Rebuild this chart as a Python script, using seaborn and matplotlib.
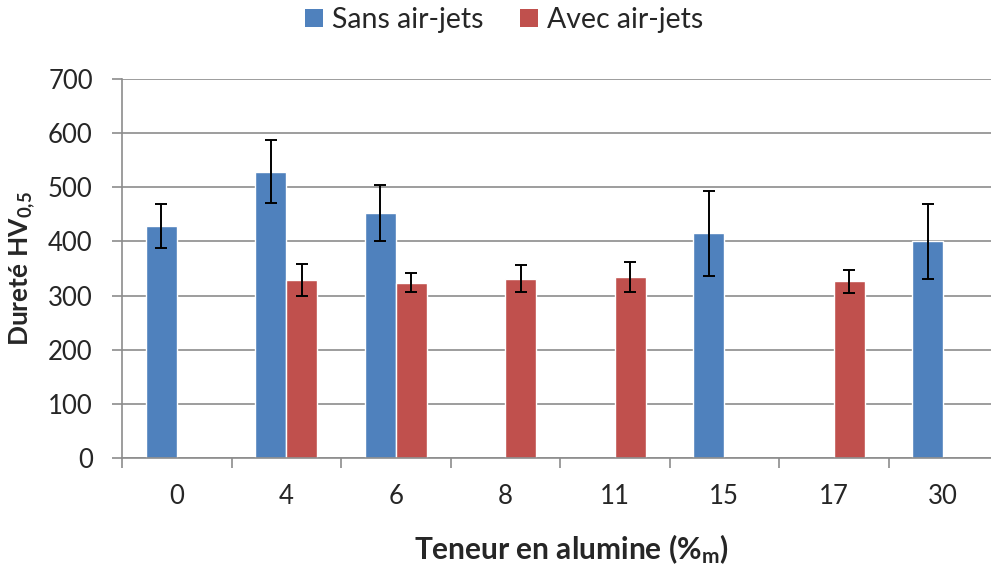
import matplotlib
matplotlib.use("Agg")
import matplotlib.pyplot as plt
from matplotlib.patches import Patch
from matplotlib.ticker import FixedLocator
import numpy as np
import pandas as pd
import seaborn as sns

# Alumina content categories (mass %)
categories = ["0", "4", "6", "8", "11", "15", "17", "30"]

# Vickers hardness HV0.5, mean and standard deviation (None = not measured)
sans_values = [428, 529, 452, None, None, 415, None, 400]
sans_errors = [41, 58, 52, None, None, 78, None, 70]
avec_values = [None, 329, 324, 331, 334, None, 326, None]
avec_errors = [None, 30, 18, 25, 28, None, 21, None]

series_names = ["Sans air-jets", "Avec air-jets"]
colors = ["#4F81BD", "#C0504D"]
y_ticks = [0, 100, 200, 300, 400, 500, 600, 700]

sns.set_style("white")
FONT = "Lato"
plt.rcParams["font.family"] = [FONT, "DejaVu Sans"]
plt.rcParams["mathtext.fontset"] = "custom"
plt.rcParams["mathtext.rm"] = f"{FONT}:bold"
plt.rcParams["mathtext.bf"] = f"{FONT}:bold"
plt.rcParams["mathtext.it"] = f"{FONT}:bold"

rows = []
for name, vals in zip(series_names, [sans_values, avec_values]):
    for cat, v in zip(categories, vals):
        if v is not None:
            rows.append({"Teneur": cat, "Dureté": v, "Série": name})
df = pd.DataFrame(rows)

err_lookup = {}
for name, errs in zip(series_names, [sans_errors, avec_errors]):
    for i, e in enumerate(errs):
        if e is not None:
            err_lookup[(name, i)] = e

fig = plt.figure(figsize=(9.91, 5.68), dpi=100)
ax = fig.add_axes([122 / 991, 1 - 458 / 568, 876 / 991, (458 - 79) / 568])

sns.barplot(data=df, x="Teneur", y="Dureté", hue="Série", order=categories,
            hue_order=series_names, palette=colors, width=0.566,
            saturation=1, errorbar=None, legend=False, ax=ax)

# Standard deviation whiskers on each bar
for name, container in zip(series_names, ax.containers):
    for bar in container:
        h = bar.get_height()
        if not np.isfinite(h):
            continue
        cx = bar.get_x() + bar.get_width() / 2
        idx = int(round(cx))
        e = err_lookup.get((name, idx))
        if e is None:
            continue
        ax.errorbar(cx, h, yerr=e, fmt="none", ecolor="black",
                    elinewidth=1.4, capsize=4, capthick=1.4, zorder=4)

ax.set_xlim(-0.5, len(categories) - 0.5)
ax.set_ylim(0, 700)
ax.set_yticks(y_ticks)
ax.set_axisbelow(True)
ax.grid(axis="y", color="#8c8c8c", linewidth=1.2)
ax.grid(axis="x", visible=False)

for side in ["top", "right"]:
    ax.spines[side].set_visible(False)
for side in ["left", "bottom"]:
    ax.spines[side].set_color("#8c8c8c")
    ax.spines[side].set_linewidth(1.2)

# Category separators as tick marks below the axis
ax.xaxis.set_minor_locator(FixedLocator(np.arange(-0.5, len(categories), 1.0)))
ax.tick_params(axis="x", which="minor", length=7, width=1.2, color="#8c8c8c",
               direction="out", bottom=True)
ax.tick_params(axis="x", which="major", length=0, pad=19, labelsize=18.5)
ax.tick_params(axis="y", which="major", length=7, width=1.2, color="#8c8c8c",
               direction="out", left=True, pad=14, labelsize=18.5)

ax.set_xlabel("Teneur en alumine (%$_{\\mathrm{m}}$)", fontsize=21.5,
              fontweight="bold")
ax.xaxis.set_label_coords(0.513, -0.195)
ax.set_ylabel("Dureté HV$_{\\mathrm{0{,}5}}$", fontsize=19,
              fontweight="bold", labelpad=8)

handles = [Patch(facecolor=c, edgecolor="none") for c in colors]
fig.legend(handles, series_names, loc="upper center",
           bbox_to_anchor=(504 / 991, 1.0), ncol=2, frameon=False,
           fontsize=20.5, handlelength=0.63, handleheight=0.63,
           handletextpad=0.3, columnspacing=1.3, borderaxespad=0.0,
           borderpad=0.25)

fig.savefig("out.png", dpi=100)
